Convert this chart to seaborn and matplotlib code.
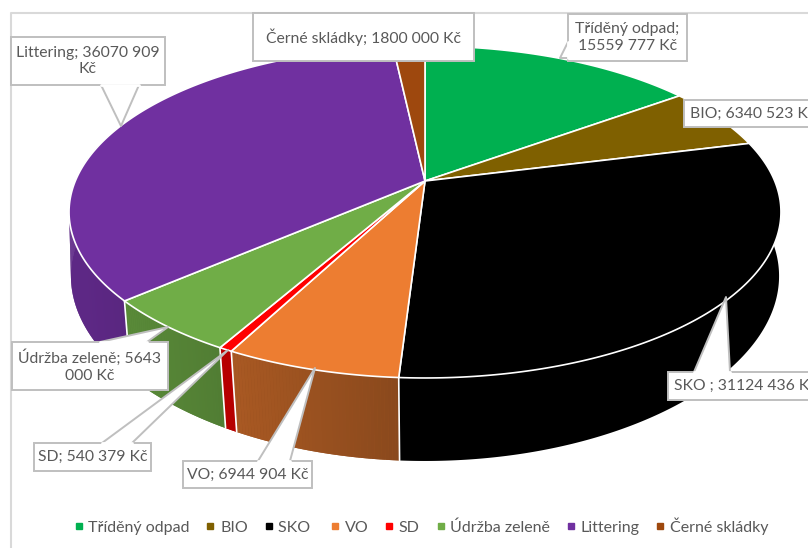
#!/usr/bin/env python

import numpy as np
import seaborn as sns

from matplotlib import pyplot as plt
from matplotlib.lines import Line2D

CATEGORIES = ['Tříděný odpad', 'BIO', 'SKO\u00a0', 'VO', 'SD', 'Údržba zeleně', 'Littering', 'Černé skládky']
VALUES = [15559777, 6340523, 31124436, 6944904, 540379, 5643000, 36070909, 1800000]
COLORS = ['#00B050', '#7F6000', '#000000', '#ED7D31', '#FF0000', '#70AD47', '#7030A0', '#9E480E']

# box: x0, y0, x1, y1 / tip and base of the callout (pixels of the picture)
LABELS = {
    0: dict(box=(568, 14, 687, 61), tip=(560, 58), base=[(568, 42), (568, 58)]),
    1: dict(box=(684, 100, 830, 127), tip=None, base=None),
    2: dict(box=(668, 372, 830, 400), tip=(726, 297), base=[(694, 372), (730, 372)]),
    3: dict(box=(183, 461, 312, 488), tip=(315, 368), base=[(258, 461), (290, 461)]),
    4: dict(box=(34, 443, 151, 471), tip=(228, 350), base=[(102, 443), (132, 443)]),
    5: dict(box=(12, 342, 168, 390), tip=(168, 327), base=[(100, 342), (147, 342)]),
    6: dict(box=(11, 37, 165, 85), tip=(121, 126), base=[(101, 85), (139, 85)]),
    7: dict(box=(253, 13, 474, 61), tip=None, base=None),
}

# fake perspective of the 3D pie: circle -> picture
TOP = dict(a=349.7, b=160.2, y0=181.0, px=0.1867)
BOTTOM = dict(a=349.5, b=173.7, y0=247.4, px=0.16)
PERSP = 0.1867
CX = 425.0
GREY = '#595959'
FONT = 11.3


def project(theta, face):
    u, v = np.sin(theta), np.cos(theta)
    x = CX + face['a'] * u / (1 + face['px'] * v)
    y = face['y0'] - face['b'] * v / (1 + PERSP * v)
    return x, y


def money(v):
    return f'{v // 1000} {v % 1000:03d} Kč'


def label_text(i):
    name = CATEGORIES[i]
    v = VALUES[i]
    if i == 0:
        return f'{name};\n{money(v)}'
    if i == 5:
        return f'{name}; {v // 1000}\n{v % 1000:03d} Kč'
    if i == 6:
        return f'{name}; {v // 1000} {v % 1000:03d}\nKč'
    return f'{name}; {money(v)}'


sns.set_theme(style='white')
plt.rcParams['font.family'] = ['Lato', 'DejaVu Sans']

fig = plt.figure(figsize=(8.08, 5.48), dpi=100)
ax = fig.add_axes([0, 0, 1, 1])
ax.set_xlim(0, 808)
ax.set_ylim(548, 0)
ax.axis('off')

# chart area border, only left and top are in the picture
ax.plot([11, 11, 808], [548, 13, 13], color='#D9D9D9', lw=1.5, zorder=0)

palette = sns.color_palette(COLORS)
shares = np.array(VALUES) / sum(VALUES)
edges = np.concatenate([[0], np.cumsum(shares)]) * 2 * np.pi


def shade_at(x):
    return 0.84 - (x - 75) / 325 * 0.26


# walls: one base polygon per slice, thin strips on it for the shading
for i, color in enumerate(palette):
    n = max(int((edges[i + 1] - edges[i]) * 120), 3)
    th = np.linspace(edges[i], edges[i + 1], n)
    th = th[np.cos(th) < 0.25]
    if len(th) < 2:
        continue
    xt, yt = project(th, TOP)
    xb, yb = project(th[::-1], BOTTOM)
    if i == 2:
        ax.fill(np.r_[xt, xb], np.r_[yt, yb], color=color, lw=0, zorder=1)
        continue
    base = np.array(color) * shade_at((xt.mean() + xb.mean()) / 2)
    ax.fill(np.r_[xt, xb], np.r_[yt, yb], color=base, lw=0, zorder=1)
    for t0, t1 in zip(th[:-1], th[1:]):
        sxt, syt = project(np.array([t0, t1]), TOP)
        sxb, syb = project(np.array([t1, t0]), BOTTOM)
        c = np.array(color) * shade_at((sxt.mean() + sxb.mean()) / 2)
        ax.fill(np.r_[sxt, sxb], np.r_[syt, syb], color=c, lw=0, zorder=1.5)

# white seams on the wall
for t in edges[1:]:
    if np.cos(t) < -0.19:
        xt, yt = project(t, TOP)
        xb, yb = project(t, BOTTOM)
        ax.plot([xt, xb], [yt, yb], color='white', lw=1.2, zorder=2)

# top face
for i, color in enumerate(palette):
    th = np.linspace(edges[i], edges[i + 1], max(int((edges[i + 1] - edges[i]) * 80), 3))
    x, y = project(th, TOP)
    ax.fill(np.r_[CX, x], np.r_[TOP['y0'], y], facecolor=color, edgecolor='white', lw=1.2,
            joinstyle='round', zorder=3)

# data labels with their callouts
for i, lab in LABELS.items():
    x0, y0, x1, y1 = lab['box']
    ax.fill([x0, x1, x1, x0], [y0, y0, y1, y1], facecolor='white', edgecolor='#BFBFBF', lw=1.4, zorder=5)
    if lab['tip'] is not None:
        (bx0, by0), (bx1, by1) = lab['base']
        ax.fill([bx0, lab['tip'][0], bx1], [by0, lab['tip'][1], by1], facecolor='white', edgecolor='none', zorder=6)
        ax.plot([bx0, lab['tip'][0], bx1], [by0, lab['tip'][1], by1], color='#BFBFBF', lw=1.4, zorder=6)
        ax.plot([bx0, bx1], [by0, by1], color='white', lw=2, zorder=6)
    tx, ha = (x0 + x1) / 2, 'center'
    if x1 > 808:
        tx, ha = x0 + 6, 'left'
    ax.text(tx, (y0 + y1) / 2, label_text(i), ha=ha, va='center', color=GREY, fontsize=FONT,
            linespacing=1.25, zorder=7)

handles = [Line2D([], [], ls='none', marker='s', ms=4.2, color=c) for c in palette]
ax.legend(handles, CATEGORIES, ncols=8, loc='center', bbox_to_anchor=(421 / 808, 1 - 526 / 548),
          frameon=False, fontsize=11.5, labelcolor=GREY, handletextpad=0.3, columnspacing=1.0,
          handlelength=0.6, borderpad=0)

fig.savefig('out.png', dpi=100)
